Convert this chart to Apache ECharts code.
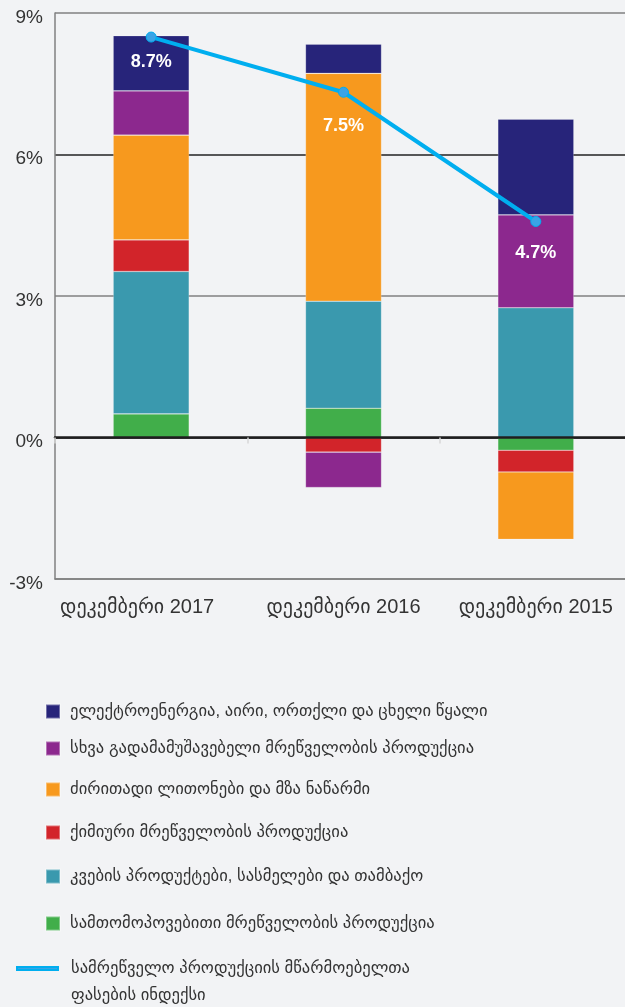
<!DOCTYPE html>
<html>
<head>
<meta charset="utf-8">
<script src="https://cdn.jsdelivr.net/npm/echarts@6/dist/echarts.min.js"></script>
<style>
html,body{margin:0;padding:0;background:#f2f3f5;}
#chart{width:625px;height:1007px;}
</style>
</head>
<body>
<div id="chart"></div>
<script>
const categories = ['დეკემბერი 2017', 'დეკემბერი 2016', 'დეკემბერი 2015'];
const yTicks = [-3, 0, 3, 6, 9];

const nameElectricity = 'ელექტროენერგია, აირი, ორთქლი და ცხელი წყალი';
const nameOtherManuf = 'სხვა გადამამუშავებელი მრეწველობის პროდუქცია';
const nameMetals = 'ძირითადი ლითონები და მზა ნაწარმი';
const nameChemical = 'ქიმიური მრეწველობის პროდუქცია';
const nameFood = 'კვების პროდუქტები, სასმელები და თამბაქო';
const nameMining = 'სამთომოპოვებითი მრეწველობის პროდუქცია';
const nameIndex = 'სამრეწველო პროდუქციის მწარმოებელთა ფასების ინდექსი';
const nameIndexLines = ['სამრეწველო პროდუქციის მწარმოებელთა', 'ფასების ინდექსი'];

const mining = [0.50, 0.62, -0.27];
const food = [3.02, 2.27, 2.75];
const chemical = [0.67, -0.31, -0.46];
const metals = [2.22, 4.83, -1.43];
const otherManuf = [0.94, -0.75, 1.97];
const electricity = [1.17, 0.62, 2.03];
const indexValues = [8.49, 7.32, 4.58];
const indexLabels = ['8.7%', '7.5%', '4.7%'];

const colors = {
  electricity: '#27247a',
  otherManuf: '#8c288e',
  metals: '#f7991e',
  chemical: '#d2242a',
  food: '#3a99ae',
  mining: '#41ae4a',
  index: '#00aeef'
};

const labelDist = [10, 19, 17];
const font = "'Liberation Sans', 'DejaVu Sans', Arial, sans-serif";

function barSeries(name, data, color) {
  return {
    name: name,
    type: 'bar',
    stack: 'total',
    barWidth: 76,
    data: data,
    itemStyle: { color: color, borderColor: 'rgba(255,255,255,0.35)', borderWidth: 0.6 },
    emphasis: { disabled: true }
  };
}

const legendOrder = [
  { name: nameElectricity, top: 698 },
  { name: nameOtherManuf, top: 735 },
  { name: nameMetals, top: 776 },
  { name: nameChemical, top: 819 },
  { name: nameFood, top: 863 },
  { name: nameMining, top: 910 }
];

const legends = legendOrder.map(l => ({
  data: [l.name],
  left: 40,
  top: l.top,
  orient: 'vertical',
  icon: 'rect',
  itemWidth: 14,
  itemHeight: 14,
  selectedMode: false,
  textStyle: { fontFamily: font, fontSize: 16.6, color: '#333', padding: [0, 0, 0, 5] }
}));
legends.push({
  data: [nameIndex],
  left: 11,
  top: 923,
  orient: 'vertical',
  icon: 'rect',
  itemWidth: 41,
  itemHeight: 3,
  selectedMode: false,
  formatter: function () { return ' \n' + nameIndexLines.join('\n'); },
  textStyle: { fontFamily: font, fontSize: 16.6, color: '#333', padding: [0, 0, 0, 8], lineHeight: 27 }
});

const chart = echarts.init(document.getElementById('chart'), null, { renderer: 'canvas' });
chart.setOption({
  backgroundColor: '#f2f3f5',
  animation: false,
  legend: legends,
  grid: { left: 55, right: -7, top: 13, bottom: 428, containLabel: false, outerBoundsMode: 'none' },
  xAxis: [
    {
      type: 'category',
      data: categories,
      axisLine: { onZero: true, lineStyle: { color: '#1e1e1e', width: 2.5 } },
      axisTick: { show: true, length: 6, lineStyle: { color: '#d8d8d8', width: 1.5 } },
      axisLabel: { show: false },
      z: 5
    },
    {
      type: 'category',
      data: categories,
      position: 'bottom',
      axisLine: { onZero: false, lineStyle: { color: '#808080', width: 1.5 } },
      axisTick: { show: false },
      axisLabel: {
        interval: 0, hideOverlap: false, margin: 18, fontFamily: font, fontSize: 20, color: '#333',
        formatter: (v, i) => i === 0 ? '{first|' + v + '}' : v,
        rich: { first: { fontFamily: font, fontSize: 20, color: '#333', padding: [0, 28, 0, 0] } }
      }
    }
  ],
  yAxis: {
    type: 'value',
    min: yTicks[0],
    max: yTicks[yTicks.length - 1],
    interval: 3,
    axisLine: { show: true, lineStyle: { color: '#808080', width: 1.5 } },
    axisTick: { show: false },
    axisLabel: {
      margin: 12, fontFamily: font, fontSize: 19, color: '#333',
      formatter: v => '{t|' + v + '%}',
      rich: { t: { fontFamily: font, fontSize: 19, color: '#333', padding: [9, 0, 0, 0] } }
    },
    splitLine: { show: true, lineStyle: { color: ['#808080', '#1e1e1e', '#808080', '#222222', '#808080'], width: 1.5 } }
  },
  series: [
    barSeries(nameMining, mining, colors.mining),
    barSeries(nameFood, food, colors.food),
    barSeries(nameChemical, chemical, colors.chemical),
    barSeries(nameMetals, metals, colors.metals),
    barSeries(nameOtherManuf, otherManuf, colors.otherManuf),
    barSeries(nameElectricity, electricity, colors.electricity),
    {
      name: nameIndex,
      type: 'line',
      z: 10,
      data: indexValues.map((v, i) => ({
        value: v,
        label: { distance: labelDist[i] }
      })),
      symbol: 'circle',
      symbolSize: 10,
      lineStyle: { color: colors.index, width: 4 },
      itemStyle: { color: '#3aa3e6', borderColor: colors.index, borderWidth: 1 },
      label: {
        show: true,
        position: 'bottom',
        formatter: p => indexLabels[p.dataIndex],
        color: '#ffffff',
        fontFamily: font,
        fontWeight: 'bold',
        fontSize: 18
      },
      emphasis: { disabled: true }
    }
  ]
});
</script>
</body>
</html>
